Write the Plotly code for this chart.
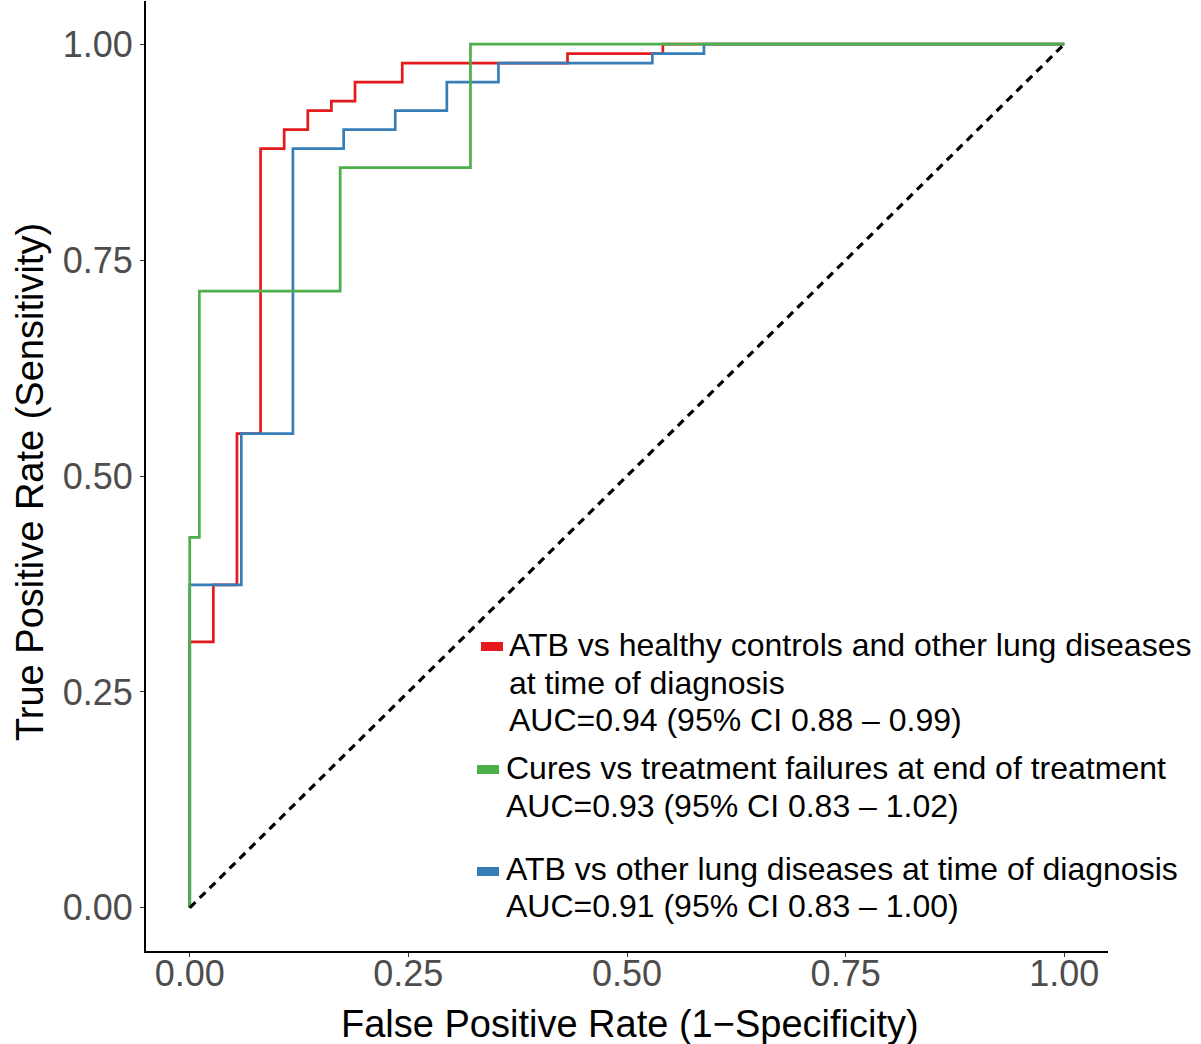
import plotly.graph_objects as go

# ---- data (ROC step corners: FPR, TPR) ----
red_fpr = [0.0, 0.0, 0.027, 0.054, 0.081, 0.108, 0.135, 0.162, 0.189, 0.243, 0.432, 0.541, 1.0]
red_tpr = [0.0, 0.308, 0.374, 0.549, 0.879, 0.901, 0.923, 0.934, 0.956, 0.978, 0.989, 1.0, 1.0]

blue_fpr = [0.0, 0.0, 0.059, 0.118, 0.176, 0.235, 0.294, 0.353, 0.529, 0.588, 1.0]
blue_tpr = [0.0, 0.374, 0.549, 0.879, 0.901, 0.923, 0.956, 0.978, 0.989, 1.0, 1.0]

green_fpr = [0.0, 0.0, 0.011, 0.172, 0.321, 1.0]
green_tpr = [0.0, 0.429, 0.714, 0.857, 1.0, 1.0]

diag = [0.0, 1.0]
tick_vals = [0.0, 0.25, 0.5, 0.75, 1.0]
tick_text = ["0.00", "0.25", "0.50", "0.75", "1.00"]

legend_entries = [
    ("#E41A1C", ["ATB vs healthy controls and other lung diseases", "at time of diagnosis",
                 "AUC=0.94 (95% CI 0.88 \u2013 0.99)"]),
    ("#4DAF4A", ["Cures vs treatment failures at end of treatment",
                 "AUC=0.93 (95% CI 0.83 \u2013 1.02)"]),
    ("#377EB8", ["ATB vs other lung diseases at time of diagnosis",
                 "AUC=0.91 (95% CI 0.83 \u2013 1.00)"]),
]

FONT = "Liberation Sans, Arial, Helvetica, sans-serif"
W, H = 1201, 1044
ML, MR, MT, MB = 146, 93, 1, 93


def px(x):
    return (x - ML) / (W - ML - MR)


def py(y):
    return (H - MB - y) / (H - MT - MB)


fig = go.Figure()
fig.add_trace(go.Scatter(x=red_fpr, y=red_tpr, mode="lines", line=dict(color="#E41A1C", width=2.7, shape="hv"),
                         showlegend=False, hoverinfo="skip"))
fig.add_trace(go.Scatter(x=blue_fpr, y=blue_tpr, mode="lines", line=dict(color="#377EB8", width=2.7, shape="hv"),
                         showlegend=False, hoverinfo="skip"))
fig.add_trace(go.Scatter(x=green_fpr, y=green_tpr, mode="lines", line=dict(color="#4DAF4A", width=2.7, shape="hv"),
                         showlegend=False, hoverinfo="skip"))
fig.add_trace(go.Scatter(x=diag, y=diag, mode="lines", line=dict(color="black", width=3.2, dash="8px,6px"),
                         showlegend=False, hoverinfo="skip"))

# manual legend (keys + text)
key_pos = [(481, 503, 642, 651), (477, 499, 765, 774), (477, 499, 867, 876)]
text_x = [507, 504, 504]
text_y = [[645, 682.5, 720], [767.5, 806], [869, 906]]
shapes = []
annotations = []
for (color, lines), (x0, x1, y0, y1), tx, tys in zip(legend_entries, key_pos, text_x, text_y):
    shapes.append(dict(type="rect", xref="paper", yref="paper", x0=px(x0), x1=px(x1), y0=py(y1), y1=py(y0),
                       fillcolor=color, line=dict(width=0)))
    for t, ty in zip(lines, tys):
        annotations.append(dict(text=t, xref="paper", yref="paper", x=px(tx), y=py(ty), xanchor="left",
                                yanchor="middle", showarrow=False, font=dict(family=FONT, size=32, color="black")))

# axis titles
annotations.append(dict(text="False Positive Rate (1\u2212Specificity)", xref="paper", yref="paper",
                        x=px(630), y=py(1024), xanchor="center", yanchor="middle", showarrow=False,
                        font=dict(family=FONT, size=38, color="black")))
annotations.append(dict(text="True Positive Rate (Sensitivity)", xref="paper", yref="paper",
                        x=px(30), y=py(482), xanchor="center", yanchor="middle", showarrow=False, textangle=-90,
                        font=dict(family=FONT, size=38, color="black")))

axis_common = dict(range=[-0.05, 1.05], tickvals=tick_vals, ticktext=tick_text, showgrid=False, zeroline=False,
                   showline=True, linecolor="black", linewidth=2, ticks="outside", ticklen=4, tickwidth=1.3,
                   tickcolor="#333333", tickfont=dict(family=FONT, size=36, color="#4D4D4D"))

fig.update_layout(
    width=W, height=H, margin=dict(l=ML, r=MR, t=MT, b=MB, autoexpand=False),
    paper_bgcolor="white", plot_bgcolor="white",
    xaxis=dict(**axis_common, ticklabelstandoff=-14),
    yaxis=dict(**axis_common),
    shapes=shapes, annotations=annotations, showlegend=False,
)

fig.write_html("out.html", config={"displayModeBar": False},
               post_script="document.body.style.margin='0';document.body.style.overflow='hidden';")
